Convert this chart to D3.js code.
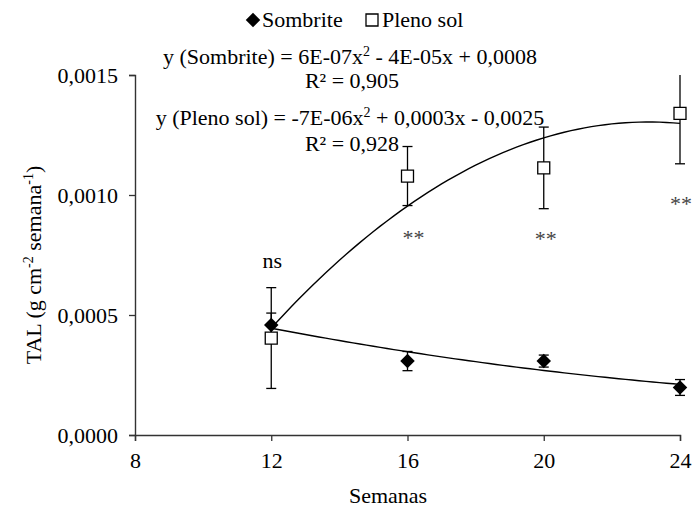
<!DOCTYPE html>
<html>
<head>
<meta charset="utf-8">
<script src="https://cdn.jsdelivr.net/npm/d3@7"></script>
<style>
  body { margin: 0; background: #fff; }
  svg text { font-family: "Liberation Serif", "Times New Roman", Times, "DejaVu Serif", serif; fill: #000; }
</style>
</head>
<body>
<div class="tal-chart"></div>
<script>
// Weeks after sowing
const semanas = [12, 16, 20, 24];
const sombrite = [0.000458, 0.000308, 0.000308, 0.000198];
const sombriteErr = [0.00005, 0.00004, 0.000025, 0.000033];
const plenoSol = [0.000404, 0.001079, 0.001113, 0.00134];
const plenoSolErr = [0.00021, 0.000123, 0.00017, 0.00021];
const xTicks = [8, 12, 16, 20, 24];
const yTicks = [0, 0.0005, 0.001, 0.0015];
const signif = ["ns", "**", "**", "**"];
const equations = [
  { pre: "y (Sombrite) = 6E-07x", post: " - 4E-05x + 0,0008", r2: "R² = 0,905" },
  { pre: "y (Pleno sol) = -7E-06x", post: " + 0,0003x - 0,0025", r2: "R² = 0,928" },
];

const FONT = '"Liberation Serif", "Times New Roman", Times, "DejaVu Serif", serif';

const width = 693;
const height = 510;
const margin = { top: 75, right: 13, bottom: 75, left: 135 };

const svg = d3
  .select(".tal-chart")
  .append("svg")
  .attr("width", width)
  .attr("height", height)
  .attr("font-family", FONT);

const x = d3.scaleLinear().domain([8, 24]).range([margin.left, width - margin.right]);
const y = d3.scaleLinear().domain([0, 0.0015]).range([height - margin.bottom, margin.top]);

// least squares polynomial, degree 2 (same as the spreadsheet trendline)
const polyfit = (xs, ys) => {
  const n = xs.length;
  const s = (p) => d3.sum(xs, (v) => Math.pow(v, p));
  const t = (p) => d3.sum(xs, (v, i) => Math.pow(v, p) * ys[i]);
  const A = [
    [n, s(1), s(2), t(0)],
    [s(1), s(2), s(3), t(1)],
    [s(2), s(3), s(4), t(2)],
  ];
  for (let i = 0; i < 3; i++) {
    for (let k = i + 1; k < 3; k++) {
      const f = A[k][i] / A[i][i];
      for (let j = i; j < 4; j++) A[k][j] -= f * A[i][j];
    }
  }
  const c = [0, 0, 0];
  for (let i = 2; i >= 0; i--) {
    let v = A[i][3];
    for (let j = i + 1; j < 3; j++) v -= A[i][j] * c[j];
    c[i] = v / A[i][i];
  }
  return (v) => c[0] + c[1] * v + c[2] * v * v;
};

// Axes
const fmt = (d) => d3.format(".4f")(d).replace(".", ",");

const xAxis = svg
  .append("g")
  .attr("transform", `translate(0, ${y(0)})`)
  .call(d3.axisBottom(x).tickValues(xTicks).tickSize(6).tickPadding(11).tickFormat((d) => d));

const yAxis = svg
  .append("g")
  .attr("transform", `translate(${x(8)}, 0)`)
  .call(d3.axisLeft(y).tickValues(yTicks).tickSize(6).tickPadding(11).tickFormat(fmt));

[xAxis, yAxis].forEach((g) => {
  g.attr("font-family", FONT).attr("font-size", 22);
  g.select(".domain").attr("stroke", "#333").attr("stroke-width", 1.4);
  g.selectAll(".tick line").attr("stroke", "#333").attr("stroke-width", 1.3);
  g.selectAll(".tick text").attr("fill", "#000");
});

// Clip for error bars
svg
  .append("clipPath")
  .attr("id", "plot-clip")
  .append("rect")
  .attr("x", 0)
  .attr("y", margin.top)
  .attr("width", width)
  .attr("height", height - margin.top - margin.bottom);

const line = d3
  .line()
  .x((d) => x(d[0]))
  .y((d) => y(d[1]));

const series = [
  { name: "Sombrite", values: sombrite, err: sombriteErr, shape: "diamond" },
  { name: "Pleno sol", values: plenoSol, err: plenoSolErr, shape: "square" },
];

const diamond = d3.symbol().type(d3.symbolSquare).size(105);
const square = d3.symbol().type(d3.symbolSquare).size(144);

series.forEach((s) => {
  const pts = semanas.map((w, i) => ({ w, v: s.values[i], e: s.err[i] }));

  // error bars
  const eb = svg.append("g").attr("clip-path", "url(#plot-clip)");
  eb.selectAll("line.bar")
    .data(pts)
    .enter()
    .append("line")
    .attr("x1", (d) => x(d.w))
    .attr("x2", (d) => x(d.w))
    .attr("y1", (d) => y(d.v - d.e))
    .attr("y2", (d) => y(d.v + d.e))
    .attr("stroke", "#000")
    .attr("stroke-width", 1.3);
  [-1, 1].forEach((sgn) => {
    eb.selectAll(null)
      .data(pts)
      .enter()
      .append("line")
      .attr("x1", (d) => x(d.w) - 5)
      .attr("x2", (d) => x(d.w) + 5)
      .attr("y1", (d) => y(d.v + sgn * d.e))
      .attr("y2", (d) => y(d.v + sgn * d.e))
      .attr("stroke", "#000")
      .attr("stroke-width", 1.3);
  });

  // trendline
  const f = polyfit(semanas, s.values);
  const xs = d3.range(12, 24.001, 0.2);
  svg
    .append("path")
    .attr("d", line(xs.map((v) => [v, f(v)])))
    .attr("fill", "none")
    .attr("stroke", "#000")
    .attr("stroke-width", 1.4);

  // markers
  svg
    .append("g")
    .selectAll("path")
    .data(pts)
    .enter()
    .append("path")
    .attr("d", s.shape === "diamond" ? diamond : square)
    .attr("transform", (d) =>
      `translate(${x(d.w)}, ${y(d.v)})` + (s.shape === "diamond" ? " rotate(45)" : "")
    )
    .attr("fill", s.shape === "diamond" ? "#000" : "#fff")
    .attr("stroke", "#000")
    .attr("stroke-width", s.shape === "diamond" ? 0 : 1.3);
});

// significance marks
const sigPos = [
  { dx: 1, y: 268 },
  { dx: 6, y: 245 },
  { dx: 2, y: 246 },
  { dx: 1, y: 211 },
];
svg
  .append("g")
  .selectAll("text")
  .data(signif)
  .enter()
  .append("text")
  .attr("x", (d, i) => x(semanas[i]) + sigPos[i].dx)
  .attr("y", (d, i) => sigPos[i].y)
  .attr("text-anchor", "middle")
  .attr("font-size", 22)
  .style("fill", (d) => (d === "ns" ? "#000" : "#444"))
  .text((d) => d);

// Legend
const legend = svg.append("g").attr("font-size", 22);
legend
  .append("path")
  .attr("d", diamond)
  .attr("transform", "translate(253, 20) rotate(45)")
  .attr("fill", "#000");
legend.append("text").attr("x", 262).attr("y", 27).text("Sombrite");
legend
  .append("path")
  .attr("d", square)
  .attr("transform", "translate(372, 20)")
  .attr("fill", "#fff")
  .attr("stroke", "#000")
  .attr("stroke-width", 1.3);
legend.append("text").attr("x", 382).attr("y", 27).text("Pleno sol");

// Equations
const eqY = [
  [64, 88],
  [125, 151],
];
equations.forEach((eq, i) => {
  const t = svg
    .append("text")
    .attr("x", 350)
    .attr("y", eqY[i][0])
    .attr("text-anchor", "middle")
    .attr("font-size", 22);
  t.append("tspan").text(eq.pre);
  t.append("tspan").attr("dy", -8).attr("font-size", 14).text("2");
  t.append("tspan").attr("dy", 8).text(eq.post);

  svg
    .append("text")
    .attr("x", 352)
    .attr("y", eqY[i][1])
    .attr("text-anchor", "middle")
    .attr("font-size", 22)
    .text(eq.r2);
});

// Axis titles
svg
  .append("text")
  .attr("x", 388)
  .attr("y", 503)
  .attr("text-anchor", "middle")
  .attr("font-size", 22)
  .text("Semanas");

const yt = svg
  .append("text")
  .attr("transform", "translate(41, 265) rotate(-90)")
  .attr("text-anchor", "middle")
  .attr("font-size", 22);
yt.append("tspan").text("TAL (g cm");
yt.append("tspan").attr("dy", -8).attr("font-size", 14).text("-2");
yt.append("tspan").attr("dy", 8).text(" semana");
yt.append("tspan").attr("dy", -8).attr("font-size", 14).text("-1");
yt.append("tspan").attr("dy", 8).text(")");
</script>
</body>
</html>
